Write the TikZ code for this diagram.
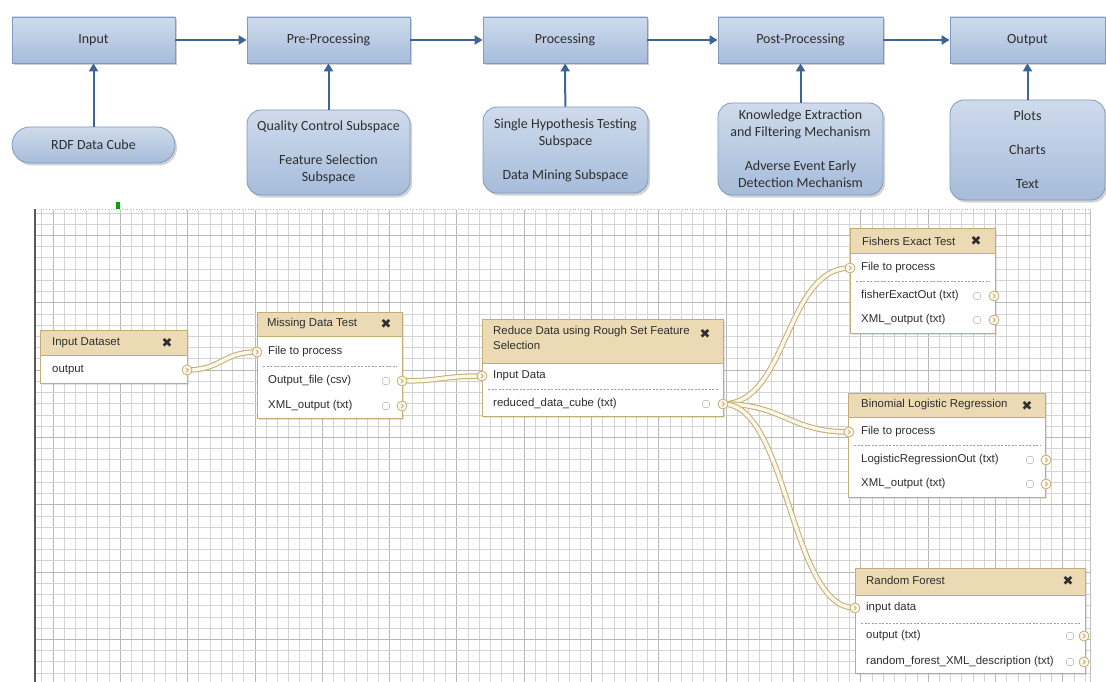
\documentclass[tikz,border=0pt]{standalone}
\usepackage{fontspec}
\setmainfont{Carlito}
\newfontfamily\gx{Liberation Sans}
\newfontfamily\djv{DejaVu Sans}
\usetikzlibrary{shadows,arrows.meta}
\definecolor{boxtop}{HTML}{CFDBEC}
\definecolor{boxbot}{HTML}{A6BCDA}
\definecolor{boxline}{HTML}{7F9BC2}
\definecolor{arrowc}{HTML}{3D6496}
\definecolor{txt}{HTML}{2E2E2E}
\definecolor{ghead}{HTML}{EBDAB3}
\definecolor{gline}{HTML}{C5AC74}
\definecolor{cablein}{HTML}{FBF7EA}
\definecolor{gridmin}{HTML}{D4D4D4}
\definecolor{gridmaj}{HTML}{B8B8B8}
\pgfdeclarelayer{gridlayer}
\pgfdeclarelayer{cablelayer}
\pgfsetlayers{gridlayer,cablelayer,main}
\tikzset{
  stage/.style={rectangle, draw=boxline, line width=0.8pt, top color=boxtop, bottom color=boxbot,
    minimum height=46pt, text=txt, font=\fontsize{14}{17}\selectfont, inner sep=2pt,
    drop shadow={shadow xshift=2pt, shadow yshift=-2.5pt, opacity=0.35}},
  sub/.style={stage, rounded corners=14pt, align=center},
  arr/.style={draw=arrowc, line width=2pt, -{Triangle[length=8pt,width=9pt]}},
  ghd/.style={rectangle, draw=gline, fill=ghead, line width=0.9pt, anchor=north west, inner sep=0pt,
    drop shadow={shadow xshift=1.5pt, shadow yshift=-1.5pt, opacity=0.2}},
  gbd/.style={rectangle, draw=gline, fill=white, line width=0.9pt, anchor=north west, inner sep=0pt,
    drop shadow={shadow xshift=1.5pt, shadow yshift=-1.5pt, opacity=0.2}},
  gtxt/.style={anchor=west, font=\gx\fontsize{11.4}{15}\selectfont, text=txt, inner sep=0pt},
  xic/.style={font=\djv\fontsize{13}{13}\selectfont, text=txt, inner sep=0pt},
  port/.style={circle, draw=gline, fill=cablein, line width=0.8pt, minimum size=10pt, inner sep=0pt,
    path picture={\draw[gline, line width=0.8pt] ([xshift=-1pt,yshift=2.2pt]path picture bounding box.center) -- ++(2.2pt,-2.2pt) -- ++(-2.2pt,-2.2pt);}},
  cbx/.style={rectangle, rounded corners=1.5pt, draw=gray!45, fill=white, line width=0.6pt, minimum size=7pt, inner sep=0pt},
  sepl/.style={draw=gray!75, dash pattern=on 2pt off 1.5pt, line width=0.5pt},
  cable/.style={draw=gline, line width=1pt, double=cablein, double distance=3.5pt},
  gmin/.style={draw=gridmin, line width=0.8pt},
  gmaj/.style={draw=gridmaj, line width=0.9pt}
}
\begin{document}
\begin{tikzpicture}[x=1pt,y=-1pt]
\useasboundingbox (0,0) rectangle (1106,682);

% ---------- grid canvas ----------
\begin{pgfonlayer}{gridlayer}
\fill[white] (0,0) rectangle (1106,682);
\foreach \k in {-1,...,92}{
  \pgfmathsetmacro\xx{53+11.22*\k}
  \pgfmathtruncatemacro\mm{mod(\k+6,6)}
  \ifnum\mm=0 \draw[gmaj] (\xx,210) -- (\xx,682); \else \draw[gmin] (\xx,210) -- (\xx,682); \fi
}
\foreach \k in {0,...,42}{
  \pgfmathsetmacro\yy{213+11.22*\k}
  \pgfmathtruncatemacro\mm{mod(\k+6,6)}
  \ifnum\mm=2 \draw[gmaj] (35,\yy) -- (1090,\yy); \else \draw[gmin] (35,\yy) -- (1090,\yy); \fi
}
\draw[gray!60, dotted, line width=0.8pt] (35,209) -- (1090,209);
\draw[gray!70!black, line width=1.2pt] (35,209) -- (35,682);
\draw[gray!50, line width=0.8pt] (1090,209) -- (1090,682);
\fill[green!65!black] (116,202) rectangle (120,209);
\end{pgfonlayer}

% ---------- top pipeline ----------
\node[stage, minimum width=163pt] (input) at (93.5,40) {Input};
\node[stage, minimum width=163pt] (pre) at (328.5,40) {Pre-Processing};
\node[stage, minimum width=164pt] (proc) at (565,40) {Processing};
\node[stage, minimum width=165pt] (post) at (800.5,40) {Post-Processing};
\node[stage, minimum width=155pt] (out) at (1027.5,40) {Output};

\node[sub, rounded corners=18pt, minimum width=163pt, minimum height=36pt] (rdf) at (93.5,145) {RDF Data Cube};
\node[sub, minimum width=163pt, minimum height=85pt] (qc) at (328.5,152.5) {Quality Control Subspace\\[17pt]Feature Selection\\Subspace};
\node[sub, minimum width=165pt, minimum height=86pt] (sh) at (565.5,150) {Single Hypothesis Testing\\Subspace\\[17pt]Data Mining Subspace};
\node[sub, minimum width=165pt, minimum height=92pt] (ke) at (800.5,149) {Knowledge Extraction\\and Filtering Mechanism\\[17pt]Adverse Event Early\\Detection Mechanism};
\node[sub, minimum width=155pt, minimum height=100pt] (pl) at (1027.5,150) {Plots\\[17pt]Charts\\[17pt]Text};

\draw[arr] (input) -- (pre);
\draw[arr] (pre) -- (proc);
\draw[arr] (proc) -- (post);
\draw[arr] (post) -- (out);
\draw[arr] (rdf) -- (input);
\draw[arr] (qc) -- (pre);
\draw[arr] (sh) -- (proc);
\draw[arr] (ke.north -| post.south) -- (post.south);
\draw[arr] (pl.north) -- (out.south);

% ---------- Input Dataset ----------
\node[ghd, minimum width=147pt, minimum height=25pt] (ind-h) at (40,330) {};
\node[gbd, minimum width=147pt, minimum height=28pt] (ind-b) at (40,355) {};
\node[gtxt] (ind-t) at (52,343) {Input Dataset};
\node[xic] (ind-x) at (167,343) {✖};
\node[gtxt] (ind-r1) at (52,370) {output};
\node[port] (ind-o) at (187,370) {};

% ---------- Missing Data Test ----------
\node[ghd, minimum width=145pt, minimum height=24pt] (mdt-h) at (257,312) {};
\node[gbd, minimum width=145pt, minimum height=82pt] (mdt-b) at (257,336) {};
\node[gtxt] (mdt-t) at (267,324) {Missing Data Test};
\node[xic] (mdt-x) at (386,324) {✖};
\node[port] (mdt-i) at (257,352) {};
\node[gtxt] (mdt-r0) at (268,352) {File to process};
\draw[sepl] (263,366) -- (397,366);
\node[gtxt] (mdt-r1) at (268,381) {Output\_file (csv)};
\node[cbx] (mdt-c1) at (386,381) {};
\node[port] (mdt-o1) at (402,381) {};
\node[gtxt] (mdt-r2) at (268,406) {XML\_output (txt)};
\node[cbx] (mdt-c2) at (386,406) {};
\node[port] (mdt-o2) at (402,406) {};

% ---------- Reduce Data ----------
\node[ghd, minimum width=241pt, minimum height=44pt] (rd-h) at (482,319) {};
\node[gbd, minimum width=241pt, minimum height=53pt] (rd-b) at (482,363) {};
\node[gtxt, align=left, anchor=north west] (rd-t) at (493,326) {Reduce Data using Rough Set Feature\\Selection};
\node[xic] (rd-x) at (705,334) {✖};
\node[port] (rd-i) at (482,376) {};
\node[gtxt] (rd-r0) at (493,376) {Input Data};
\draw[sepl] (488,389) -- (718,389);
\node[gtxt] (rd-r1) at (493,404) {reduced\_data\_cube (txt)};
\node[cbx] (rd-c1) at (706,404) {};
\node[port] (rd-o) at (723,404) {};

% ---------- Fishers Exact Test ----------
\node[ghd, minimum width=145pt, minimum height=25pt] (fe-h) at (850,228) {};
\node[gbd, minimum width=145pt, minimum height=80pt] (fe-b) at (850,253) {};
\node[gtxt] (fe-t) at (862,241) {Fishers Exact Test};
\node[xic] (fe-x) at (976,241) {✖};
\node[port] (fe-i) at (850,268) {};
\node[gtxt] (fe-r0) at (861,268) {File to process};
\draw[sepl] (856,281) -- (990,281);
\node[gtxt] (fe-r1) at (861,296) {fisherExactOut (txt)};
\node[cbx] (fe-c1) at (977,296) {};
\node[port] (fe-o1) at (994,296) {};
\node[gtxt] (fe-r2) at (861,320) {XML\_output (txt)};
\node[cbx] (fe-c2) at (977,320) {};
\node[port] (fe-o2) at (994,320) {};

% ---------- Binomial Logistic Regression ----------
\node[ghd, minimum width=197pt, minimum height=24pt] (bl-h) at (848,393) {};
\node[gbd, minimum width=197pt, minimum height=80pt] (bl-b) at (848,417) {};
\node[gtxt] (bl-t) at (861,405) {Binomial Logistic Regression};
\node[xic] (bl-x) at (1027,406) {✖};
\node[port] (bl-i) at (849,432) {};
\node[gtxt] (bl-r0) at (861,432) {File to process};
\draw[sepl] (854,445) -- (1040,445);
\node[gtxt] (bl-r1) at (861,460) {LogisticRegressionOut (txt)};
\node[cbx] (bl-c1) at (1030,460) {};
\node[port] (bl-o1) at (1046,460) {};
\node[gtxt] (bl-r2) at (861,484) {XML\_output (txt)};
\node[cbx] (bl-c2) at (1030,484) {};
\node[port] (bl-o2) at (1046,484) {};

% ---------- Random Forest ----------
\node[ghd, minimum width=230pt, minimum height=27pt] (rf-h) at (855,568) {};
\node[gbd, minimum width=230pt, minimum height=78pt] (rf-b) at (855,595) {};
\node[gtxt] (rf-t) at (866,580) {Random Forest};
\node[xic] (rf-x) at (1068,581) {✖};
\node[port] (rf-i) at (855,608) {};
\node[gtxt] (rf-r0) at (866,608) {input data};
\draw[sepl] (861,623) -- (1080,623);
\node[gtxt] (rf-r1) at (866,636) {output (txt)};
\node[cbx] (rf-c1) at (1070,636) {};
\node[port] (rf-o1) at (1084,636) {};
\node[gtxt] (rf-r2) at (866,662) {random\_forest\_XML\_description (txt)};
\node[cbx] (rf-c2) at (1070,662) {};
\node[port] (rf-o2) at (1084,662) {};

% ---------- cables ----------
\begin{pgfonlayer}{cablelayer}
\draw[cable] (ind-o.center) .. controls +(35,0) and +(-35,0) .. (mdt-i.center);
\draw[cable] (mdt-o1.center) .. controls +(40,0) and +(-40,0) .. (rd-i.center);
\draw[cable] (rd-o.center) .. controls +(65,0) and +(-65,0) .. (fe-i.center);
\draw[cable] (rd-o.center) .. controls +(60,0) and +(-60,0) .. (bl-i.center);
\draw[cable] (rd-o.center) .. controls +(65,0) and +(-65,0) .. (rf-i.center);
\end{pgfonlayer}
\end{tikzpicture}
\end{document}
